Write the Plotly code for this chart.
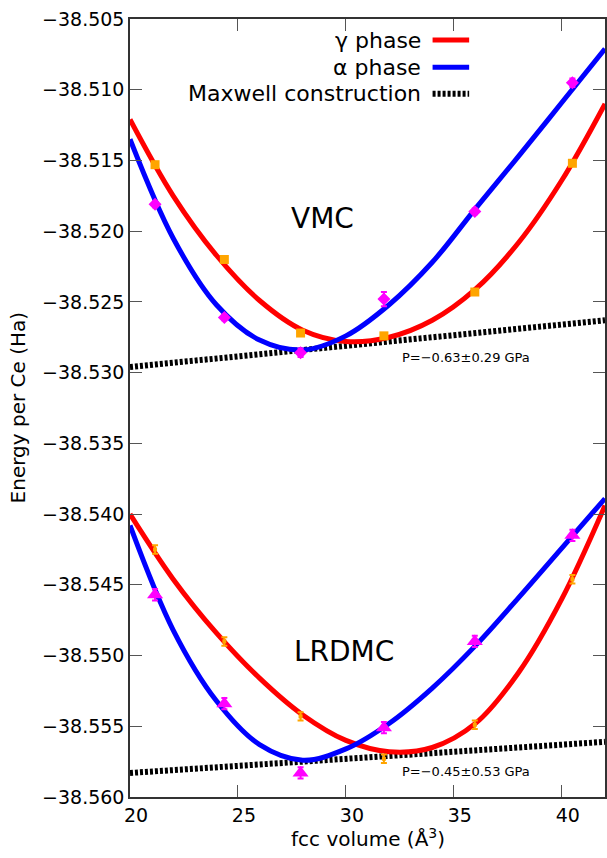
import plotly.graph_objects as go

# ---- data ----
vol_pts = [21.16, 24.37, 27.90, 31.76, 35.97, 40.49]

vmc_gamma = [-38.5153, -38.5220, -38.5272, -38.5274, -38.5243, -38.5152]
vmc_gamma_err = [0.0001, 0.0001, 0.0001, 0.0001, 0.0001, 0.0001]
vmc_alpha = [-38.5181, -38.5261, -38.5286, -38.5248, -38.5186, -38.5095]
vmc_alpha_err = [0.0002, 0.0002, 0.0003, 0.0005, 0.0002, 0.0003]

lr_gamma = [-38.5425, -38.5490, -38.5543, -38.5573, -38.5549, -38.5446]
lr_gamma_err = [0.0003, 0.0003, 0.0003, 0.0003, 0.0003, 0.0003]
lr_alpha = [-38.5457, -38.5534, -38.5583, -38.5551, -38.5490, -38.5415]
lr_alpha_err = [0.0004, 0.0004, 0.0004, 0.0004, 0.0004, 0.0004]

# fitted curves (every 2 Å^3)
curve_x = [20, 22, 24, 26, 28, 30, 32, 34, 36, 38, 40, 42]
curve_red_vmc = [-38.5121, -38.5175, -38.5217, -38.5249, -38.5270, -38.5278,
                 -38.5275, -38.5263, -38.5241, -38.5208, -38.5164, -38.5110]
curve_blue_vmc = [-38.5135, -38.5205, -38.5252, -38.5277, -38.5284, -38.5274,
                  -38.5252, -38.5222, -38.5184, -38.5147, -38.5109, -38.5071]
curve_red_lr = [-38.5400, -38.5446, -38.5484, -38.5516, -38.5542, -38.5560,
                -38.5568, -38.5565, -38.5548, -38.5512, -38.5460, -38.5394]
curve_blue_lr = [-38.5408, -38.5482, -38.5532, -38.5563, -38.5574, -38.5566,
                 -38.5548, -38.5523, -38.5493, -38.5459, -38.5424, -38.5389]

maxwell_x = [20, 42]
maxwell_vmc = [-38.5296, -38.5263]
maxwell_lr = [-38.5583, -38.5561]

RED = "#FF0000"
BLUE = "#0000FF"
ORANGE = "#FFA500"
MAG = "#FF00FF"
FONT = "DejaVu Sans, Liberation Sans, sans-serif"

fig = go.Figure()

for mx, my in [(maxwell_x, maxwell_vmc), (maxwell_x, maxwell_lr)]:
    fig.add_trace(go.Scatter(x=mx, y=my, mode="lines",
                             line=dict(color="black", width=6, dash="3px,2px"),
                             showlegend=False, hoverinfo="skip"))

for cy, col in [(curve_red_vmc, RED), (curve_blue_vmc, BLUE),
                (curve_red_lr, RED), (curve_blue_lr, BLUE)]:
    fig.add_trace(go.Scatter(x=curve_x, y=cy, mode="lines",
                             line=dict(color=col, width=5, shape="spline", smoothing=1.0),
                             showlegend=False))

# markers
fig.add_trace(go.Scatter(x=vol_pts, y=vmc_gamma, mode="markers",
                         marker=dict(symbol="square", size=9, color=ORANGE),
                         error_y=dict(type="data", array=vmc_gamma_err, color=ORANGE, thickness=2, width=3),
                         showlegend=False))
fig.add_trace(go.Scatter(x=vol_pts, y=vmc_alpha, mode="markers",
                         marker=dict(symbol="diamond", size=10, color=MAG),
                         error_y=dict(type="data", array=vmc_alpha_err, color=MAG, thickness=2, width=3),
                         showlegend=False))
fig.add_trace(go.Scatter(x=vol_pts, y=lr_gamma, mode="markers",
                         marker=dict(symbol="square", size=4, color=ORANGE),
                         error_y=dict(type="data", array=lr_gamma_err, color=ORANGE, thickness=2, width=3),
                         showlegend=False))
fig.add_trace(go.Scatter(x=vol_pts, y=lr_alpha, mode="markers",
                         marker=dict(symbol="triangle-up", size=14, color=MAG),
                         error_y=dict(type="data", array=lr_alpha_err, color=MAG, thickness=2, width=3),
                         showlegend=False))

# custom legend (text right-aligned, sample on the right)
legend_items = [("γ phase", dict(color=RED, width=5)),
                ("α phase", dict(color=BLUE, width=5)),
                ("Maxwell construction", dict(color="black", width=6, dash="3px,2px"))]
leg_y = [0.973, 0.938, 0.904]
for (txt, ln), yy in zip(legend_items, leg_y):
    fig.add_annotation(x=0.617, y=yy, xref="paper", yref="paper", text=txt,
                       showarrow=False, xanchor="right", yanchor="middle",
                       font=dict(family=FONT, size=22, color="black"))
    fig.add_shape(type="line", xref="paper", yref="paper",
                  x0=0.637, x1=0.714, y0=yy, y1=yy, line=ln)

# labels inside plot
fig.add_annotation(x=28.9, y=-38.5191, text="VMC", showarrow=False,
                   font=dict(family=FONT, size=28, color="black"))
fig.add_annotation(x=29.9, y=-38.5497, text="LRDMC", showarrow=False,
                   font=dict(family=FONT, size=28, color="black"))
fig.add_annotation(x=32.5, y=-38.5289, text="P=−0.63±0.29 GPa", showarrow=False,
                   xanchor="left", font=dict(family=FONT, size=13, color="black"))
fig.add_annotation(x=32.5, y=-38.5582, text="P=−0.45±0.53 GPa", showarrow=False,
                   xanchor="left", font=dict(family=FONT, size=13, color="black"))

# axis titles
fig.add_annotation(x=-0.235, y=0.5, xref="paper", yref="paper", text="Energy per Ce (Ha)",
                   textangle=-90, showarrow=False, xanchor="center", yanchor="middle",
                   font=dict(family=FONT, size=20, color="black"))
fig.add_annotation(x=0.5, y=-0.053, xref="paper", yref="paper", text="fcc volume (Å<sup>3</sup>)",
                   showarrow=False, xanchor="center", yanchor="middle",
                   font=dict(family=FONT, size=20, color="black"))

axis_common = dict(showline=True, linecolor="#333333", linewidth=1.5, mirror="allticks",
                   ticks="inside", ticklen=12, tickcolor="#555555", tickwidth=1,
                   showgrid=False, zeroline=False, automargin=False,
                   tickfont=dict(family=FONT, size=19, color="black"))

fig.update_xaxes(range=[20, 42], tickvals=[20, 25, 30, 35, 40], ticklabelshift=6,
                 **axis_common)
fig.update_yaxes(range=[-38.560, -38.505], dtick=0.005, tickformat=".3f",
                 **axis_common)

fig.update_layout(width=607, height=858, margin=dict(l=130, r=2, t=19, b=61),
                  plot_bgcolor="white", paper_bgcolor="white",
                  font=dict(family=FONT, color="black"), showlegend=False)

fig.write_html("out.html", config={"displayModeBar": False},
               post_script="document.body.style.margin='0';document.body.style.overflow='hidden';")
